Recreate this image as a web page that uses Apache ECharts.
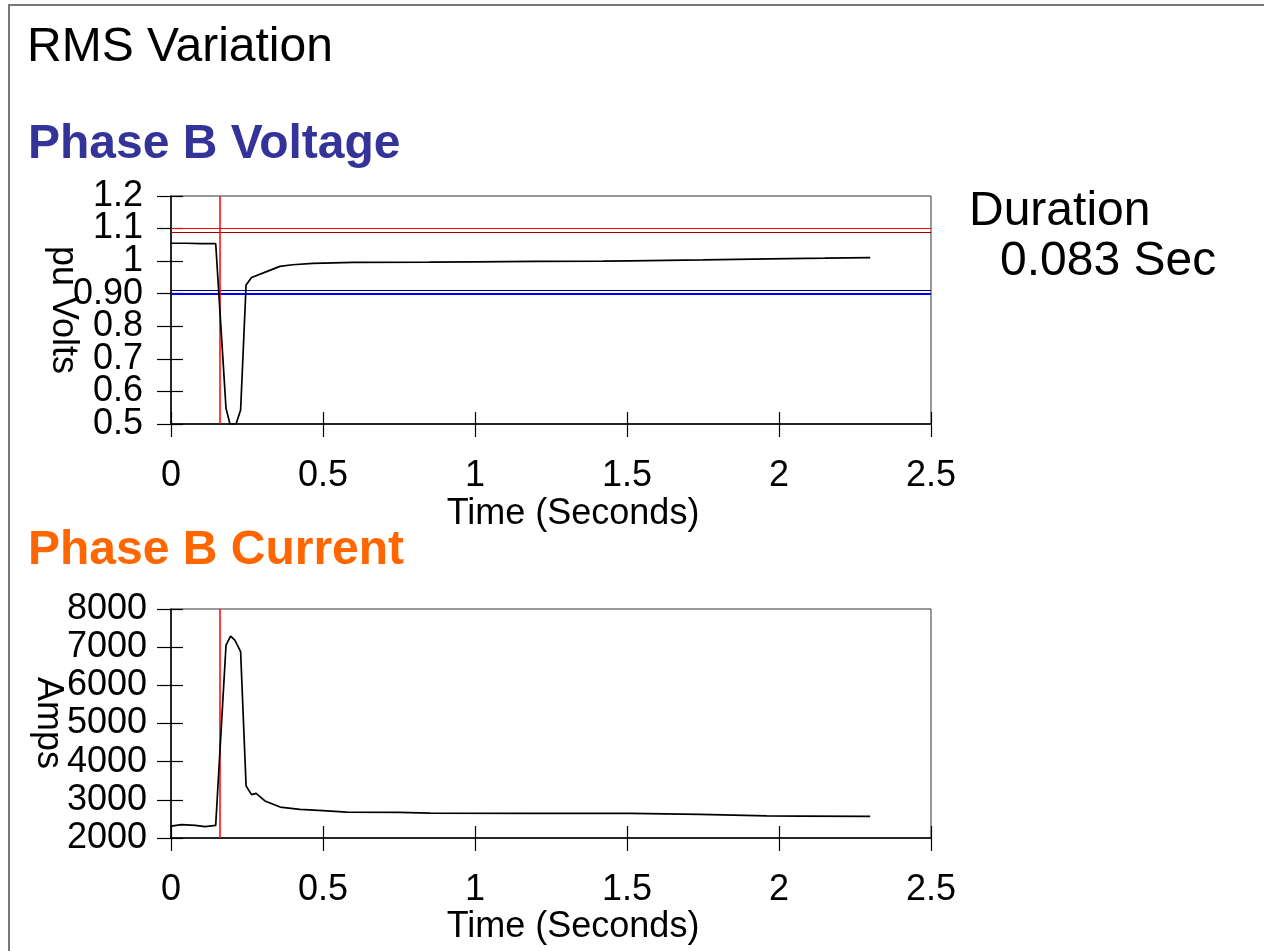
<!DOCTYPE html>
<html>
<head>
<meta charset="utf-8">
<title>RMS Variation</title>
<script src="https://cdn.jsdelivr.net/npm/echarts@6/dist/echarts.min.js"></script>
<style>
  html, body { margin: 0; padding: 0; background: #fff; }
  #chart { width: 1264px; height: 951px; }
</style>
</head>
<body>
<div id="chart"></div>
<script>
const FONT = '"Liberation Sans", Arial, Helvetica, sans-serif';

// Phase B RMS voltage, per unit, against time in seconds
const voltageTime = [0, 0.05, 0.10, 0.147, 0.181, 0.194, 0.214, 0.229, 0.247, 0.265, 0.304, 0.358, 0.40, 0.467, 0.60, 0.85, 1.0, 1.2, 1.42, 1.51, 1.75, 1.97, 2.15, 2.30];
const voltagePu   = [1.055, 1.055, 1.054, 1.054, 0.548, 0.50, 0.50, 0.543, 0.927, 0.950, 0.964, 0.984, 0.989, 0.993, 0.996, 0.997, 0.998, 0.999, 1.000, 1.001, 1.004, 1.007, 1.009, 1.011];

// Phase B RMS current, amps, against time in seconds
const currentTime = [0, 0.035, 0.08, 0.112, 0.147, 0.181, 0.196, 0.21, 0.229, 0.247, 0.265, 0.28, 0.309, 0.359, 0.424, 0.50, 0.578, 0.75, 0.852, 1.2, 1.51, 1.74, 1.96, 2.07, 2.30];
const currentAmps = [2312, 2350, 2330, 2297, 2330, 7055, 7290, 7185, 6880, 3362, 3136, 3170, 2970, 2811, 2750, 2716, 2680, 2670, 2653, 2645, 2645, 2620, 2578, 2575, 2567];

// Tick labels (bottom to top / left to right)
const voltageTickLabels = ['0.5', '0.6', '0.7', '0.8', '0.90', '1', '1.1', '1.2'];
const currentTickLabels = ['2000', '3000', '4000', '5000', '6000', '7000', '8000'];
const timeTickLabels = ['0', '0.5', '1', '1.5', '2', '2.5'];

// Swell / sag thresholds (pu) and the trigger instant (s)
const swellLimits = [1.10, 1.09];
const sagLimits = [0.91, 0.90];
const triggerTime = 0.164;
const durationValue = '0.083 Sec';

const pairs = (xs, ys) => xs.map((x, i) => [x, ys[i]]);

const TICK_FONT = 36;
const grids = [
  { left: 171, top: 196, width: 760, height: 228, show: true, borderColor: '#333', borderWidth: 1, backgroundColor: 'transparent' },
  { left: 171, top: 609, width: 760, height: 229, show: true, borderColor: '#333', borderWidth: 1, backgroundColor: 'transparent' }
];

function tickLabelStyle(show, margin, formatter) {
  return {
    show, margin, formatter, interval: 0,
    color: '#000', fontFamily: FONT, fontSize: TICK_FONT,
    showMinLabel: true, showMaxLabel: true, hideOverlap: false
  };
}

function timeAxis(gridIndex, inner) {
  return {
    type: 'value', gridIndex, position: 'bottom',
    min: 0, max: 2.5, interval: 0.5,
    axisLine: { show: !inner, onZero: false, lineStyle: { color: '#000', width: 1.5 } },
    axisTick: { show: true, inside: inner, length: inner ? 12 : 13, lineStyle: { color: '#000', width: 1.2 } },
    axisLabel: tickLabelStyle(!inner, 34, v => timeTickLabels[Math.round(v / 0.5)]),
    splitLine: { show: false }
  };
}

function valueAxis(gridIndex, inner, min, max, interval, labels) {
  return {
    type: 'value', gridIndex, position: 'left',
    min, max, interval,
    axisLine: { show: !inner, onZero: false, lineStyle: { color: '#000', width: 1.5 } },
    axisTick: { show: true, inside: inner, length: inner ? 12 : 14, lineStyle: { color: '#000', width: 1.2 } },
    axisLabel: labels
      ? tickLabelStyle(!inner, 24, v => labels[Math.round((v - min) / interval)])
      : { show: false },
    splitLine: { show: false }
  };
}

// Closely spaced pu labels: placed by an evenly spaced category axis over the
// same grid so every one of them is kept.
function labelAxis(gridIndex, labels) {
  return {
    type: 'category', gridIndex, position: 'left', data: labels, boundaryGap: false,
    axisLine: { show: false }, axisTick: { show: false }, splitLine: { show: false },
    axisLabel: tickLabelStyle(true, 28, undefined)
  };
}

const noLabel = { show: false };
const solid = (color, width) => ({ type: 'solid', color, width });
const thresholdLines = [
  { yAxis: swellLimits[0], lineStyle: solid('#ff0000', 1.2) },
  { yAxis: swellLimits[1], lineStyle: solid('#990000', 1.2) },
  { yAxis: sagLimits[0], lineStyle: solid('#000080', 1.2) },
  { yAxis: sagLimits[1], lineStyle: solid('#0000ff', 1.8) },
  { xAxis: triggerTime, lineStyle: solid('#ff0000', 1.5) }
];

function titleText(text, x, y, color, weight) {
  return {
    type: 'text', x, y, silent: true,
    style: { text, fill: color, font: `${weight} 48px ${FONT}`, textAlign: 'left', textVerticalAlign: 'middle' }
  };
}

function axisName(text, x, y, rotate) {
  return {
    type: 'text', x, y, rotation: rotate ? -Math.PI / 2 : 0, silent: true,
    style: { text, fill: '#000', font: `normal 36px ${FONT}`, textAlign: 'center', textVerticalAlign: 'middle' }
  };
}

const chart = echarts.init(document.getElementById('chart'), null, { renderer: 'canvas' });
chart.setOption({
  animation: false,
  backgroundColor: '#fff',
  grid: grids,
  xAxis: [timeAxis(0, false), timeAxis(0, true), timeAxis(1, false), timeAxis(1, true)],
  yAxis: [
    valueAxis(0, false, 0.5, 1.2, 0.1, null),
    valueAxis(0, true, 0.5, 1.2, 0.1, null),
    labelAxis(0, voltageTickLabels),
    valueAxis(1, false, 2000, 8000, 1000, currentTickLabels),
    valueAxis(1, true, 2000, 8000, 1000, currentTickLabels)
  ],
  series: [
    {
      type: 'line', xAxisIndex: 0, yAxisIndex: 0,
      data: pairs(voltageTime, voltagePu),
      showSymbol: false, symbol: 'none', silent: true, z: 3,
      lineStyle: { color: '#000', width: 1.7 },
      markLine: { silent: true, symbol: ['none', 'none'], label: noLabel, data: thresholdLines, z: 2 }
    },
    {
      type: 'line', xAxisIndex: 2, yAxisIndex: 3,
      data: pairs(currentTime, currentAmps),
      showSymbol: false, symbol: 'none', silent: true, z: 3,
      lineStyle: { color: '#000', width: 1.7 },
      markLine: {
        silent: true, symbol: ['none', 'none'], label: noLabel, z: 2,
        data: [{ xAxis: triggerTime, lineStyle: solid('#ff0000', 1.5) }]
      }
    }
  ],
  graphic: [
    {
      type: 'polyline', silent: true,
      shape: { points: [[9, 951], [9, 5], [1264, 5]] },
      style: { stroke: '#777', lineWidth: 2, fill: null }
    },
    titleText('RMS Variation', 27, 48, '#000', 'normal'),
    titleText('Phase B Voltage', 28, 145, '#333399', 'bold'),
    titleText('Phase B Current', 28, 551, '#ff6600', 'bold'),
    titleText('Duration', 969, 212, '#000', 'normal'),
    titleText(durationValue, 1000, 262, '#000', 'normal'),
    axisName('Time (Seconds)', 573, 514, false),
    axisName('Time (Seconds)', 573, 927, false),
    axisName('pu Volts', 63, 310, true),
    axisName('Amps', 48, 723, true)
  ]
});
</script>
</body>
</html>
